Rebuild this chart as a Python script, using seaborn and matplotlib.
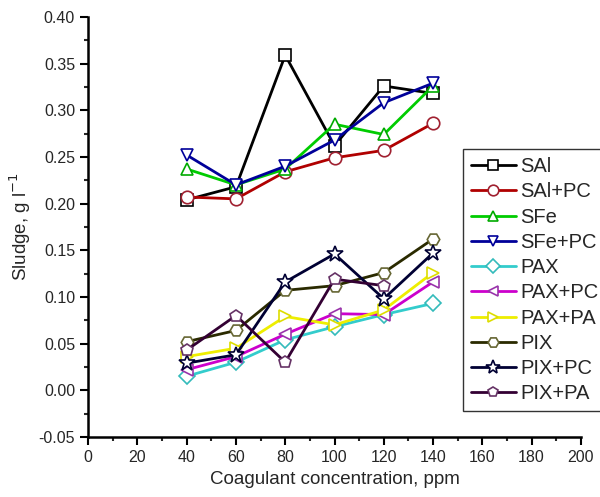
import numpy as np
import pandas as pd
import matplotlib.pyplot as plt
import seaborn as sns
from matplotlib.ticker import MultipleLocator

# Data
conc = [40, 60, 80, 100, 120, 140]
sal = [0.204, 0.218, 0.359, 0.262, 0.326, 0.318]
sal_pc = [0.207, 0.205, 0.234, 0.249, 0.257, 0.286]
sfe = [0.237, 0.220, 0.237, 0.285, 0.274, 0.326]
sfe_pc = [0.252, 0.220, 0.240, 0.268, 0.308, 0.329]
pax = [0.015, 0.030, 0.054, 0.068, 0.081, 0.093]
pax_pc = [0.022, 0.036, 0.060, 0.082, 0.081, 0.116]
pax_pa = [0.036, 0.045, 0.079, 0.070, 0.086, 0.126]
pix = [0.052, 0.064, 0.107, 0.112, 0.126, 0.162]
pix_pc = [0.029, 0.038, 0.116, 0.146, 0.098, 0.147]
pix_pa = [0.043, 0.080, 0.030, 0.119, 0.112, np.nan]

series = {
    'SAl': sal, 'SAl+PC': sal_pc, 'SFe': sfe, 'SFe+PC': sfe_pc,
    'PAX': pax, 'PAX+PC': pax_pc, 'PAX+PA': pax_pa,
    'PIX': pix, 'PIX+PC': pix_pc, 'PIX+PA': pix_pa,
}

# (line colour, marker edge colour, marker)
styles = {
    'SAl': ('#000000', '#000000', 's'),
    'SAl+PC': ('#b00000', '#a02030', 'o'),
    'SFe': ('#00cc00', '#00aa00', '^'),
    'SFe+PC': ('#000099', '#000099', 'v'),
    'PAX': ('#33cccc', '#33bbbb', 'D'),
    'PAX+PC': ('#cc00cc', '#9933aa', '<'),
    'PAX+PA': ('#eeee00', '#dddd00', '>'),
    'PIX': ('#2a2a00', '#666633', 'H'),
    'PIX+PC': ('#000033', '#000033', '*'),
    'PIX+PA': ('#330033', '#663366', 'p'),
}

sns.set_style("ticks")
plt.rcParams['font.family'] = ['Liberation Sans', 'DejaVu Sans']

fig = plt.figure(figsize=(6, 4.97), dpi=100)
ax = fig.add_axes([0.147, 0.121, 0.821, 0.845])

for name, vals in series.items():
    df = pd.DataFrame({'x': conc, 'y': vals})
    lc, mc, mk = styles[name]
    ms = 12 if mk == '*' else (8 if mk == 'D' else 9)
    sns.lineplot(data=df, x='x', y='y', ax=ax, color=lc, lw=2.0,
                 marker=mk, markersize=ms, markerfacecolor='white',
                 markeredgecolor=mc, markeredgewidth=1.2, label=name)

ax.set_xlim(0, 200)
ax.set_ylim(-0.05, 0.40)
ax.xaxis.set_major_locator(MultipleLocator(20))
ax.xaxis.set_minor_locator(MultipleLocator(10))
ax.yaxis.set_major_locator(MultipleLocator(0.05))
ax.yaxis.set_minor_locator(MultipleLocator(0.025))
ax.set_yticks(np.arange(-0.05, 0.401, 0.05))
ax.set_yticklabels([f"{v:.2f}" for v in np.arange(-0.05, 0.401, 0.05)])
ax.tick_params(axis='both', which='major', direction='out', length=6, width=1.5,
               labelsize=11.5, color='black')
ax.tick_params(axis='both', which='minor', direction='out', length=3, width=1.5)
for s in ['top', 'right']:
    ax.spines[s].set_visible(False)
for s in ['left', 'bottom']:
    ax.spines[s].set_linewidth(1.8)
    ax.spines[s].set_color('black')

ax.set_xlabel('Coagulant concentration, ppm', fontsize=13.5)
ax.set_ylabel('Sludge, g l$^{-1}$', fontsize=13.5)

leg = ax.legend(loc='upper left', bbox_to_anchor=(0.772, 0.70), bbox_transform=fig.transFigure,
                fontsize=14.5, frameon=True, fancybox=False, edgecolor='black',
                handlelength=2.2, handletextpad=0.25, labelspacing=0.31,
                borderpad=0.4, borderaxespad=0, markerscale=0.85)
leg.get_frame().set_linewidth(1.0)

fig.savefig('out.png', dpi=100)
plt.close(fig)
